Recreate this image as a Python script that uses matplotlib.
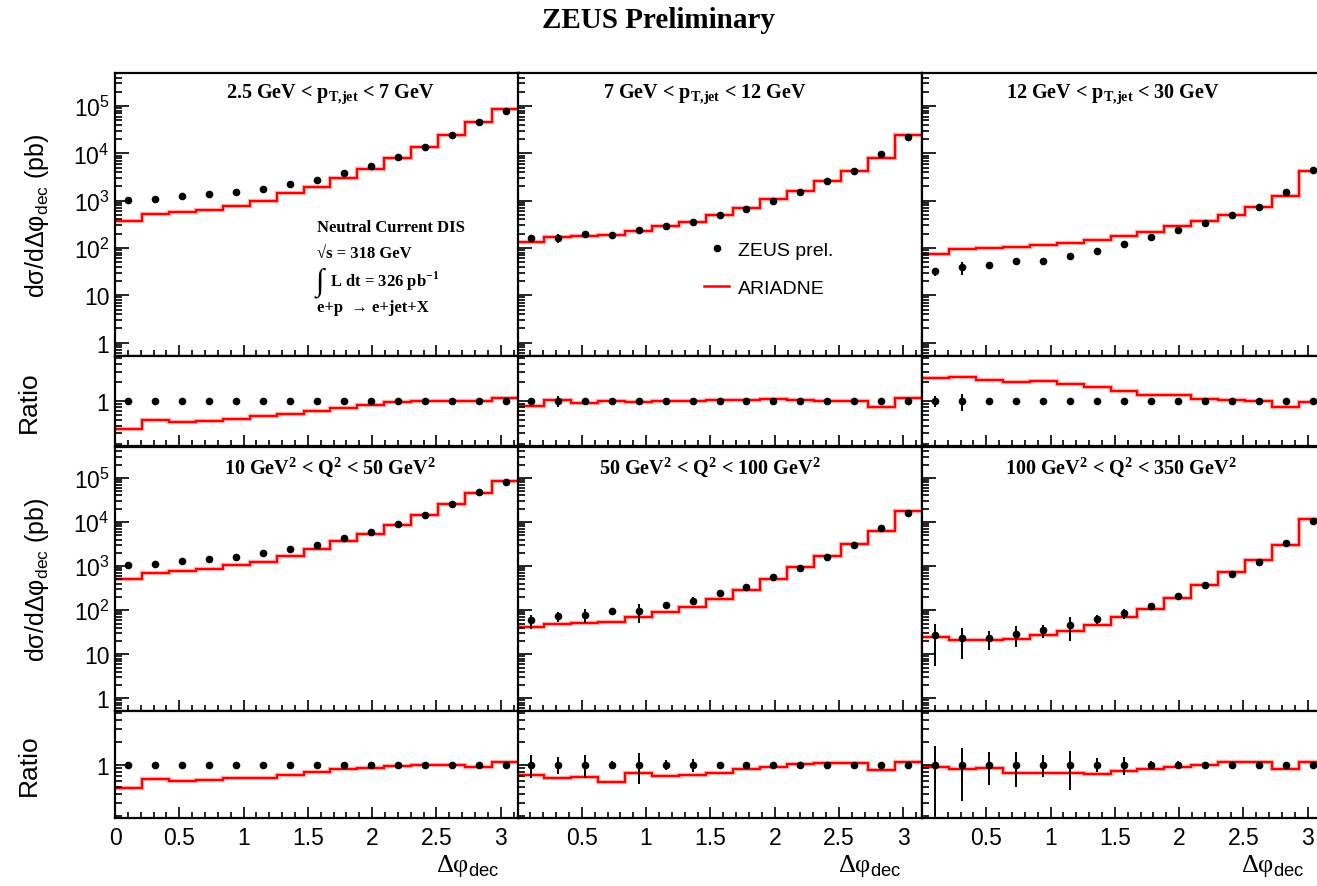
import numpy as np
import matplotlib
matplotlib.use("Agg")
import matplotlib.pyplot as plt
from matplotlib.lines import Line2D
from matplotlib.ticker import FixedLocator, NullFormatter, FixedFormatter

plt.rcParams["font.family"] = ["Liberation Sans", "DejaVu Sans"]
plt.rcParams["mathtext.fontset"] = "custom"
plt.rcParams["mathtext.rm"] = "Liberation Sans"
plt.rcParams["mathtext.sf"] = "Liberation Sans"
plt.rcParams["mathtext.bf"] = "Liberation Serif:bold"

# 15 bins in delta phi_dec from 0 to pi
edges = np.linspace(0, np.pi, 16)
centers = 0.5 * (edges[:-1] + edges[1:])

# top row: pT,jet bins
pt_low_data = [1050, 1070, 1250, 1350, 1520, 1780, 2300, 2800, 3900, 5400, 8200, 13500, 24000, 47000, 78000]
pt_low_mc = [365, 525, 575, 650, 790, 1000, 1420, 1940, 3000, 4600, 7800, 13500, 24000, 46500, 88000]
pt_low_err = [0.04, 0.03, 0.03, 0.03, 0.03, 0.03, 0.03, 0.03, 0.03, 0.03, 0.03, 0.03, 0.03, 0.03, 0.03]

pt_mid_data = [162, 162, 200, 192, 240, 289, 355, 490, 675, 1000, 1560, 2550, 4150, 9800, 21800]
pt_mid_mc = [133, 169, 183, 192, 234, 289, 355, 505, 690, 1060, 1590, 2550, 4150, 7940, 24000]
pt_mid_err = [0.05, 0.2, 0.05, 0.1, 0.04, 0.03, 0.03, 0.03, 0.03, 0.03, 0.03, 0.03, 0.03, 0.03, 0.03]

pt_high_data = [32, 39, 44.5, 52, 54, 69, 88, 122, 169, 235, 340, 490, 730, 1520, 4350]
pt_high_mc = [75, 96, 99, 107, 113, 129, 149, 175, 215, 289, 370, 500, 730, 1230, 4150]
pt_high_err = [0.2, 0.3, 0.12, 0.12, 0.1, 0.04, 0.04, 0.03, 0.03, 0.03, 0.03, 0.03, 0.03, 0.03, 0.03]

# bottom row: Q2 bins
q2_low_data = [1040, 1120, 1280, 1420, 1610, 1940, 2390, 3040, 4240, 5990, 8800, 14700, 25800, 48000, 80000]
q2_low_mc = [500, 710, 770, 870, 1040, 1260, 1700, 2390, 3700, 5400, 8330, 14500, 25300, 44500, 87000]
q2_low_err = [0.06, 0.05, 0.06, 0.05, 0.05, 0.03, 0.03, 0.03, 0.03, 0.03, 0.03, 0.03, 0.03, 0.03, 0.03]

q2_mid_data = [59, 74, 78, 95, 95, 131, 162, 242, 335, 565, 915, 1620, 3000, 7400, 16200]
q2_mid_mc = [42.6, 48, 52, 55, 72, 92, 118, 183, 287, 520, 930, 1680, 3100, 6300, 17500]
q2_mid_err = [0.35, 0.25, 0.35, 0.1, 0.45, 0.15, 0.2, 0.08, 0.07, 0.03, 0.03, 0.03, 0.03, 0.03, 0.03]

q2_high_data = [27, 24, 23.3, 29.4, 35.6, 45.7, 62.6, 85.6, 126, 210, 370, 673, 1260, 3380, 10700]
q2_high_mc = [24.8, 20.9, 20.9, 22.8, 27, 34.7, 46.6, 69, 109, 193, 370, 730, 1370, 2940, 11500]
q2_high_err = [0.8, 0.68, 0.47, 0.5, 0.33, 0.55, 0.22, 0.27, 0.12, 0.12, 0.03, 0.03, 0.03, 0.03, 0.03]

titles = [
    r"2.5 GeV < p$_{\mathbf{T{,}jet}}$ < 7 GeV",
    r"7 GeV < p$_{\mathbf{T{,}jet}}$ < 12 GeV",
    r"12 GeV < p$_{\mathbf{T{,}jet}}$ < 30 GeV",
    r"10 GeV$^{\mathbf{2}}$ < Q$^{\mathbf{2}}$ < 50 GeV$^{\mathbf{2}}$",
    r"50 GeV$^{\mathbf{2}}$ < Q$^{\mathbf{2}}$ < 100 GeV$^{\mathbf{2}}$",
    r"100 GeV$^{\mathbf{2}}$ < Q$^{\mathbf{2}}$ < 350 GeV$^{\mathbf{2}}$",
]
title_x = [0.533, 0.464, 0.473, 0.531, 0.476, 0.493]

panels = [
    (pt_low_data, pt_low_mc, pt_low_err),
    (pt_mid_data, pt_mid_mc, pt_mid_err),
    (pt_high_data, pt_high_mc, pt_high_err),
    (q2_low_data, q2_low_mc, q2_low_err),
    (q2_mid_data, q2_mid_mc, q2_mid_err),
    (q2_high_data, q2_high_mc, q2_high_err),
]

W, H = 1317, 887
fig = plt.figure(figsize=(W / 100, H / 100), dpi=100)

col_left = [115, 517.5, 922]
col_w = 404
# (main top, main bottom, ratio bottom) in pixels from the top
rows = [(74, 357, 447), (448, 712, 819)]

main_lim = (0.52, 5e5)
ratio_lim = (0.187, 5.35)
serif = ["Liberation Serif", "DejaVu Serif"]


def px_axes(x0, y_top, y_bot):
    return fig.add_axes([x0 / W, 1 - y_bot / H, col_w / W, (y_bot - y_top) / H])


def style(ax, xlen=8, ylen=10):
    for s in ax.spines.values():
        s.set_linewidth(1.6)
    ax.tick_params(which="both", direction="in", top=False, right=False, width=1.2,
                   labelsize=16.5, pad=4)
    ax.tick_params(axis="x", which="major", length=xlen)
    ax.tick_params(axis="x", which="minor", length=xlen / 2)
    ax.tick_params(axis="y", which="major", length=ylen)
    ax.tick_params(axis="y", which="minor", length=ylen / 2)
    ax.set_xlim(0, np.pi)
    ax.xaxis.set_major_locator(FixedLocator([0, 0.5, 1, 1.5, 2, 2.5, 3]))
    ax.xaxis.set_minor_locator(FixedLocator(np.arange(0.1, 3.15, 0.1)))


for k, (data, mc, err) in enumerate(panels):
    r, c = divmod(k, 3)
    y_top, y_mid, y_bot = rows[r]
    data = np.array(data, dtype=float)
    mc = np.array(mc, dtype=float)
    err = np.array(err)

    ax = px_axes(col_left[c], y_top, y_mid)
    ax.set_yscale("log")
    ax.stairs(mc, edges, color="#ff6666", lw=3.2, alpha=0.45, baseline=None)
    ax.stairs(mc, edges, color="red", lw=1.6, baseline=None)
    ax.errorbar(centers, data, yerr=[data * err, data * err], fmt="o", color="black",
                ms=4.5, elinewidth=1.4, capsize=0)
    style(ax)
    ax.set_ylim(*main_lim)
    ax.yaxis.set_major_locator(FixedLocator([1, 10, 1e2, 1e3, 1e4, 1e5]))
    ax.yaxis.set_minor_locator(FixedLocator(
        [m * 10.0 ** e for e in range(-1, 6) for m in range(2, 10)]))
    ax.yaxis.set_minor_formatter(NullFormatter())
    if c == 0:
        ax.yaxis.set_major_formatter(FixedFormatter(
            ["1", "10", r"10$^{\mathsf{2}}$", r"10$^{\mathsf{3}}$",
             r"10$^{\mathsf{4}}$", r"10$^{\mathsf{5}}$"]))
    else:
        ax.yaxis.set_major_formatter(NullFormatter())
    ax.xaxis.set_major_formatter(NullFormatter())
    ax.text(title_x[k], 0.93 if r == 0 else 0.925, titles[k], transform=ax.transAxes,
            ha="center", va="center", family=serif, weight="bold", fontsize=14.5)

    if k == 0:
        box = [(0.456, "Neutral Current DIS"), (0.364, "√s = 318 GeV"),
               (0.173, "e+p  → e+jet+X")]
        for yy, s in box:
            ax.text(0.501, yy, s, transform=ax.transAxes, ha="left", va="center",
                    family=serif, weight="bold", fontsize=12)
        ax.text(0.497, 0.262, "∫", transform=ax.transAxes, ha="left", va="center",
                family=serif, fontsize=22)
        ax.text(0.532, 0.268, r"L dt = 326 pb$^{\mathbf{-1}}$", transform=ax.transAxes,
                ha="left", va="center", family=serif, weight="bold", fontsize=12)
    if k == 1:
        handles = [Line2D([], [], ls="none", marker="o", color="black", ms=4.5),
                   Line2D([], [], color="red", lw=1.8)]
        ax.legend(handles, ["ZEUS prel.", "ARIADNE"], loc="upper left",
                  bbox_to_anchor=(0.462, 0.405), frameon=False, fontsize=14,
                  handlelength=1.3, handletextpad=0.45, labelspacing=1.05,
                  borderpad=0, borderaxespad=0)

    rax = px_axes(col_left[c], y_mid, y_bot)
    rax.set_yscale("log")
    ratio = mc / data
    rax.stairs(ratio, edges, color="#ff6666", lw=3.2, alpha=0.45, baseline=None)
    rax.stairs(ratio, edges, color="red", lw=1.6, baseline=None)
    rax.errorbar(centers, np.ones_like(data), yerr=[err, err], fmt="o", color="black",
                 ms=4.5, elinewidth=1.4, capsize=0)
    style(rax)
    rax.set_ylim(*ratio_lim)
    rax.yaxis.set_major_locator(FixedLocator([1]))
    rax.yaxis.set_minor_locator(FixedLocator(
        [0.2, 0.3, 0.4, 0.5, 0.6, 0.7, 0.8, 0.9, 2, 3, 4, 5]))
    rax.yaxis.set_minor_formatter(NullFormatter())
    if c == 0:
        rax.yaxis.set_major_formatter(FixedFormatter(["1"]))
    else:
        rax.yaxis.set_major_formatter(NullFormatter())
    if r == 1:
        labels = ["0", "0.5", "1", "1.5", "2", "2.5", "3"] if c == 0 else \
            ["", "0.5", "1", "1.5", "2", "2.5", "3"]
        rax.xaxis.set_major_formatter(FixedFormatter(labels))
        rax.tick_params(axis="x", pad=6)
    else:
        rax.xaxis.set_major_formatter(NullFormatter())

# axis labels
for (y_top, y_mid, y_bot) in rows:
    fig.text(37 / W, 1 - (y_top + y_mid) / 2 / H, r"dσ/dΔφ$_{\mathsf{dec}}$ (pb)",
             rotation=90, ha="center", va="center", fontsize=18)
    fig.text(29 / W, 1 - (y_mid + y_bot) / 2 / H, "Ratio", rotation=90,
             ha="center", va="center", fontsize=19)

for xr in [500, 902, 1305]:
    fig.text(xr / W, 1 - 866 / H, r"Δφ$_{\mathsf{dec}}$", ha="right", va="center",
             family=serif, fontsize=19)

fig.text(0.5, 1 - 21 / H, "ZEUS Preliminary", ha="center", va="center",
         family=serif, weight="bold", fontsize=21)

fig.savefig("out.png", dpi=100)
